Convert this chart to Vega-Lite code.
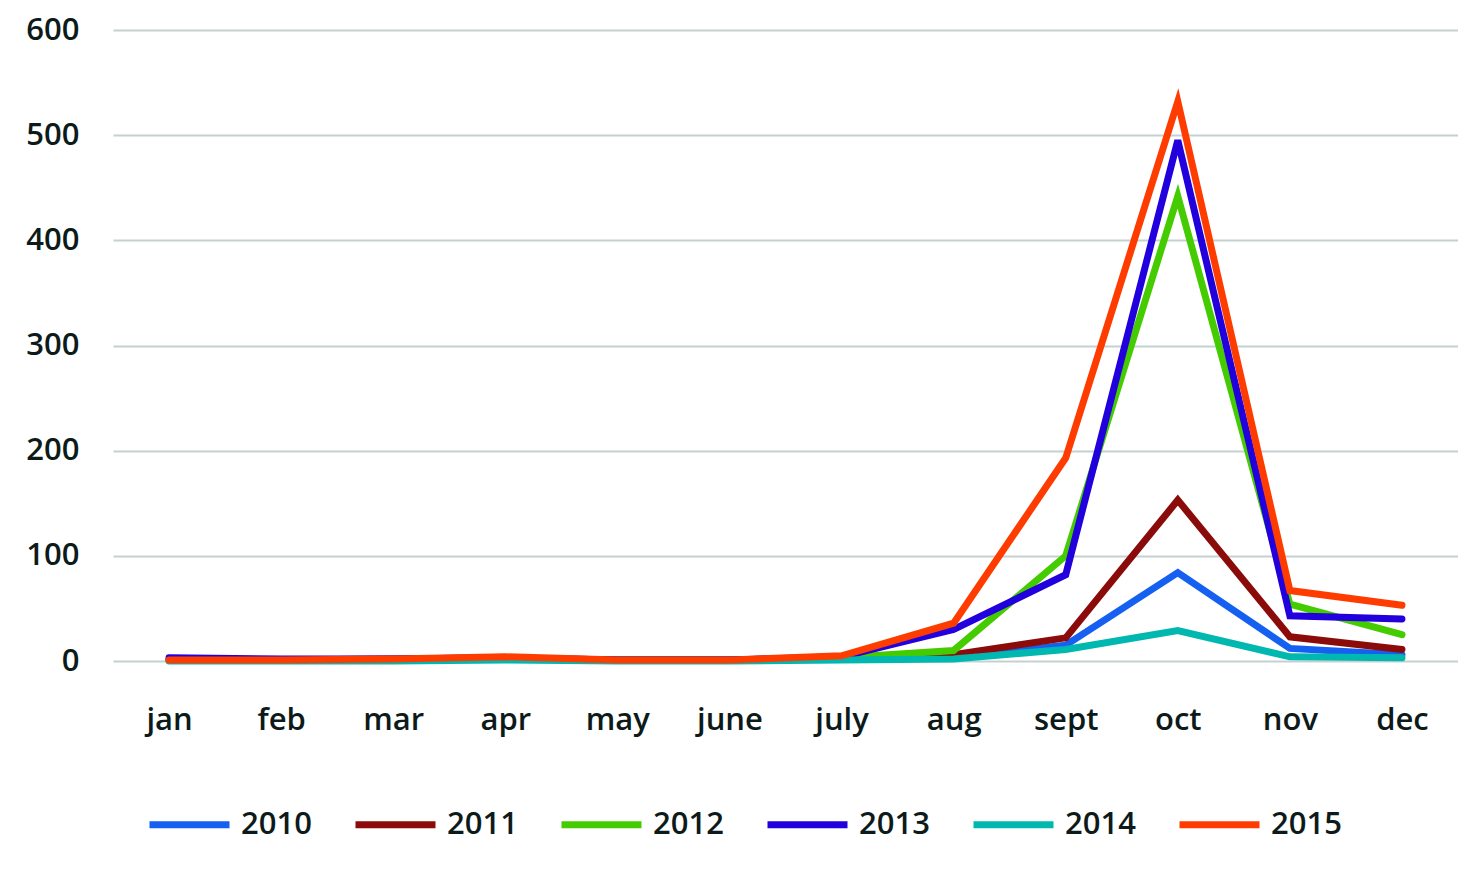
{
  "$schema": "https://vega.github.io/schema/vega-lite/v6.json",
  "autosize": "none",
  "width": 1345,
  "height": 631,
  "padding": {"left": 113, "top": 30, "right": 0, "bottom": 211},
  "background": "white",
  "data": {"values": [
    {"month": "jan", "year": "2010", "value": 1}, {"month": "jan", "year": "2011", "value": 1}, {"month": "jan", "year": "2012", "value": 1}, {"month": "jan", "year": "2013", "value": 3}, {"month": "jan", "year": "2014", "value": 0}, {"month": "jan", "year": "2015", "value": 1},
    {"month": "feb", "year": "2010", "value": 1}, {"month": "feb", "year": "2011", "value": 1}, {"month": "feb", "year": "2012", "value": 1}, {"month": "feb", "year": "2013", "value": 2}, {"month": "feb", "year": "2014", "value": 0}, {"month": "feb", "year": "2015", "value": 1},
    {"month": "mar", "year": "2010", "value": 1}, {"month": "mar", "year": "2011", "value": 2}, {"month": "mar", "year": "2012", "value": 1}, {"month": "mar", "year": "2013", "value": 2}, {"month": "mar", "year": "2014", "value": 0}, {"month": "mar", "year": "2015", "value": 2},
    {"month": "apr", "year": "2010", "value": 2}, {"month": "apr", "year": "2011", "value": 3}, {"month": "apr", "year": "2012", "value": 2}, {"month": "apr", "year": "2013", "value": 3}, {"month": "apr", "year": "2014", "value": 1}, {"month": "apr", "year": "2015", "value": 4},
    {"month": "may", "year": "2010", "value": 1}, {"month": "may", "year": "2011", "value": 1}, {"month": "may", "year": "2012", "value": 1}, {"month": "may", "year": "2013", "value": 1}, {"month": "may", "year": "2014", "value": 0}, {"month": "may", "year": "2015", "value": 1},
    {"month": "june", "year": "2010", "value": 1}, {"month": "june", "year": "2011", "value": 1}, {"month": "june", "year": "2012", "value": 1}, {"month": "june", "year": "2013", "value": 1}, {"month": "june", "year": "2014", "value": 0}, {"month": "june", "year": "2015", "value": 1},
    {"month": "july", "year": "2010", "value": 2}, {"month": "july", "year": "2011", "value": 3}, {"month": "july", "year": "2012", "value": 3}, {"month": "july", "year": "2013", "value": 4}, {"month": "july", "year": "2014", "value": 1}, {"month": "july", "year": "2015", "value": 5},
    {"month": "aug", "year": "2010", "value": 3}, {"month": "aug", "year": "2011", "value": 6}, {"month": "aug", "year": "2012", "value": 10}, {"month": "aug", "year": "2013", "value": 30}, {"month": "aug", "year": "2014", "value": 2}, {"month": "aug", "year": "2015", "value": 36},
    {"month": "sept", "year": "2010", "value": 15}, {"month": "sept", "year": "2011", "value": 22}, {"month": "sept", "year": "2012", "value": 100}, {"month": "sept", "year": "2013", "value": 82}, {"month": "sept", "year": "2014", "value": 11}, {"month": "sept", "year": "2015", "value": 193},
    {"month": "oct", "year": "2010", "value": 84}, {"month": "oct", "year": "2011", "value": 153}, {"month": "oct", "year": "2012", "value": 442}, {"month": "oct", "year": "2013", "value": 495}, {"month": "oct", "year": "2014", "value": 29}, {"month": "oct", "year": "2015", "value": 532},
    {"month": "nov", "year": "2010", "value": 12}, {"month": "nov", "year": "2011", "value": 23}, {"month": "nov", "year": "2012", "value": 54}, {"month": "nov", "year": "2013", "value": 43}, {"month": "nov", "year": "2014", "value": 4}, {"month": "nov", "year": "2015", "value": 67},
    {"month": "dec", "year": "2010", "value": 6}, {"month": "dec", "year": "2011", "value": 11}, {"month": "dec", "year": "2012", "value": 25}, {"month": "dec", "year": "2013", "value": 40}, {"month": "dec", "year": "2014", "value": 3}, {"month": "dec", "year": "2015", "value": 53}
  ]},
  "mark": {"type": "line", "strokeWidth": 7, "strokeJoin": "miter", "strokeCap": "round"},
  "encoding": {
    "x": {
      "field": "month", "type": "nominal",
      "sort": ["jan", "feb", "mar", "apr", "may", "june", "july", "aug", "sept", "oct", "nov", "dec"],
      "scale": {"type": "point", "padding": 0.5},
      "axis": {"title": null, "domain": false, "ticks": false, "grid": false, "labelAngle": 0, "labelPadding": 44, "labelFontSize": 31, "labelFont": "Open Sans", "labelFontWeight": 600, "labelColor": "#0d1a1a"}
    },
    "y": {
      "field": "value", "type": "quantitative",
      "scale": {"domain": [0, 600], "nice": false},
      "axis": {"title": null, "values": [0, 100, 200, 300, 400, 500, 600], "domain": false, "ticks": false, "grid": true, "gridColor": "#c5d1d1", "gridWidth": 2, "labelPadding": 34, "labelFontSize": 31, "labelFont": "Open Sans", "labelFontWeight": 600, "labelColor": "#0d1a1a"}
    },
    "color": {
      "field": "year", "type": "nominal",
      "scale": {"domain": ["2010", "2011", "2012", "2013", "2014", "2015"], "range": ["#1560f0", "#8b0a0a", "#44cc00", "#2200dd", "#00b8b0", "#ff3c00"]},
      "legend": {
        "title": null, "orient": "none", "direction": "horizontal", "legendX": 33, "legendY": 751,
        "symbolType": "stroke", "symbolSize": 6400, "symbolStrokeWidth": 7,
        "labelFontSize": 31, "labelFont": "Open Sans", "labelFontWeight": 600, "labelColor": "#0d1a1a", "labelOffset": 8, "columnPadding": 29
      }
    }
  },
  "config": {"view": {"stroke": null}}
}
